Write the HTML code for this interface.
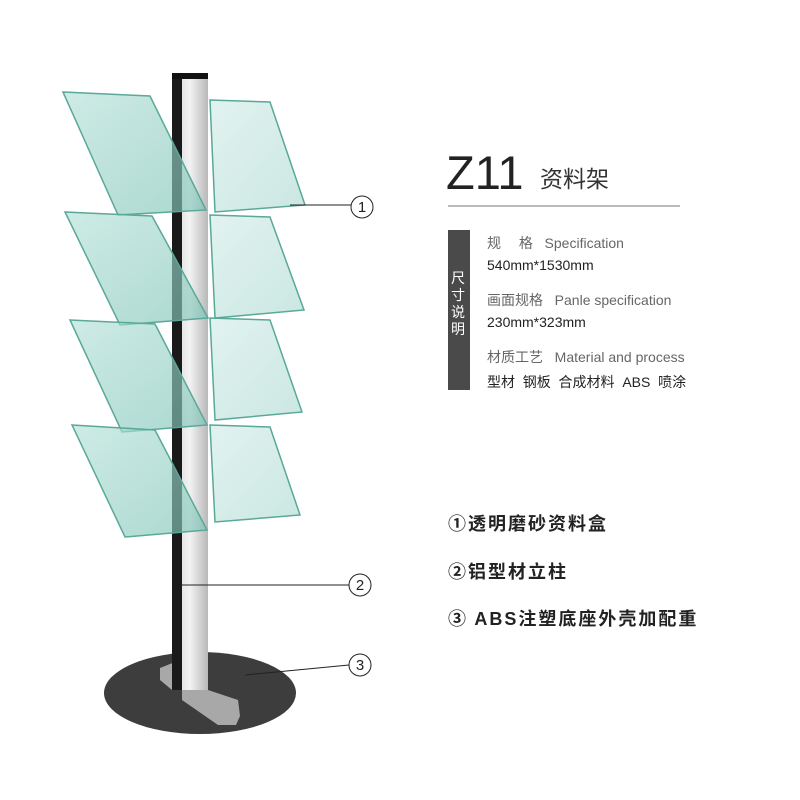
<!DOCTYPE html><html><head><meta charset="utf-8"><style>
body{margin:0;width:800px;height:800px;background:#fff;position:relative;overflow:hidden;font-family:"Liberation Sans","Noto Sans CJK SC",sans-serif}
.t{position:absolute;white-space:nowrap}
.g{color:#666;font-size:14px}.b{color:#222;font-size:14px}
.l{font-size:18px;color:#222;letter-spacing:2px;font-weight:bold}
</style></head><body>
<svg width="800" height="800" style="position:absolute;left:0;top:0">
<defs><linearGradient id="tr" x1="0" y1="0" x2="1" y2="1"><stop offset="0" stop-color="#b5e0d8"/><stop offset="1" stop-color="#7cc4b6"/></linearGradient>
<linearGradient id="sv" x1="0" x2="1"><stop offset="0" stop-color="#d8d8d8"/><stop offset="0.5" stop-color="#f2f2f2"/><stop offset="1" stop-color="#b8b8b8"/></linearGradient></defs>
<ellipse cx="200" cy="693" rx="96" ry="41" fill="#3d3d3d"/>
<polygon points="160,668 175,662 208,662 208,690 172,690 160,680" fill="#a8a8a8"/>
<polygon points="182,690 208,690 238,700 240,716 236,725 218,725 182,700" fill="#a8a8a8"/>
<rect x="172" y="73" width="36" height="617" fill="url(#sv)"/>
<rect x="172" y="73" width="10" height="617" fill="#1a1a1a"/>
<rect x="172" y="73" width="36" height="6" fill="#111"/>
<g fill="url(#tr)" fill-opacity="0.65" stroke="#5aa898" stroke-width="1.5">
<polygon points="63,92 150,96 206,210 118,215"/>
<polygon points="65,212 152,216 208,318 120,325"/>
<polygon points="70,320 155,324 207,425 122,432"/>
<polygon points="72,425 155,430 207,530 125,537"/>
<polygon points="210,100 270,102 305,205 215,212" fill-opacity="0.4"/>
<polygon points="210,215 270,217 304,310 215,318" fill-opacity="0.4"/>
<polygon points="210,318 270,320 302,412 215,420" fill-opacity="0.4"/>
<polygon points="210,425 270,427 300,515 215,522" fill-opacity="0.4"/>
</g>
<g stroke="#222" stroke-width="1" fill="none">
<line x1="290" y1="205" x2="351" y2="205"/><circle cx="362" cy="207" r="11"/>
<line x1="182" y1="585" x2="349" y2="585"/><circle cx="360" cy="585" r="11"/>
<line x1="245" y1="675" x2="349" y2="665"/><circle cx="360" cy="665" r="11"/>
</g>
<g font-size="15" text-anchor="middle" fill="#222"><text x="362" y="212">1</text><text x="360" y="590">2</text><text x="360" y="670">3</text></g>
<line x1="448" y1="206" x2="680" y2="206" stroke="#777" stroke-width="1"/>
<rect x="448" y="230" width="22" height="160" fill="#4a4a4a"/>
</svg>
<div class="t" style="left:446px;top:145px;font-size:47px;color:#222">Z11</div>
<div class="t" style="left:540px;top:160px;font-size:23px;color:#333">资料架</div>
<div class="t" style="left:451px;top:270px;width:15px;font-size:14px;line-height:17px;color:#fff;white-space:normal">尺寸说明</div>
<div class="t g" style="left:487px;top:233px">规　&nbsp;格&nbsp;&nbsp; Specification</div>
<div class="t b" style="left:487px;top:257px">540mm*1530mm</div>
<div class="t g" style="left:487px;top:290px">画面规格&nbsp;&nbsp; Panle specification</div>
<div class="t b" style="left:487px;top:314px">230mm*323mm</div>
<div class="t g" style="left:487px;top:347px">材质工艺&nbsp;&nbsp; Material and process</div>
<div class="t b" style="left:487px;top:372px">型材&nbsp; 钢板&nbsp; 合成材料&nbsp; ABS&nbsp; 喷涂</div>
<div class="t l" style="left:448px;top:510px;font-weight:600">①透明磨砂资料盒</div>
<div class="t l" style="left:448px;top:558px;font-weight:600">②铝型材立柱</div>
<div class="t l" style="left:448px;top:605px;font-weight:600">③ ABS注塑底座外壳加配重</div>
</body></html>
